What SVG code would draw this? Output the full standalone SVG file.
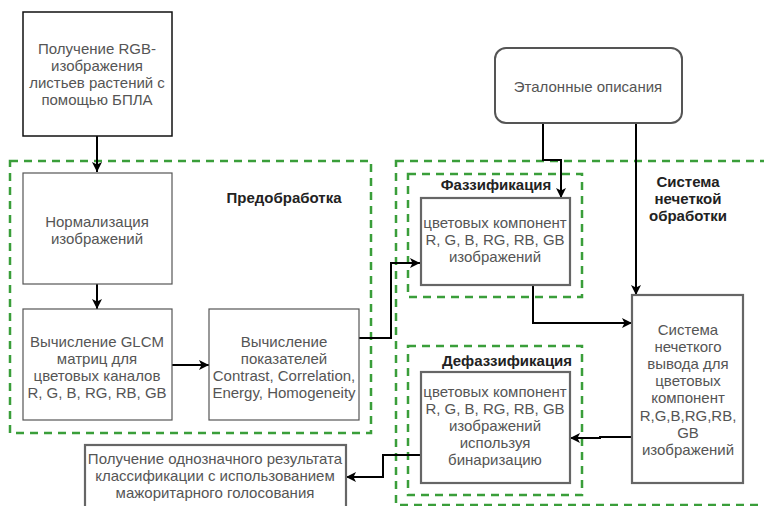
<svg xmlns="http://www.w3.org/2000/svg" width="764" height="506" viewBox="0 0 764 506">
<defs>
<marker id="arr" viewBox="0 0 10 10" refX="10" refY="5" markerWidth="10" markerHeight="10" markerUnits="userSpaceOnUse" orient="auto">
<path d="M0,0 L10,5 L0,10 L2.5,5 Z" fill="#000"/>
</marker>
<style>
.t{font-family:"Liberation Sans",Arial,sans-serif;font-size:15px;fill:#555;text-anchor:middle}
.b{font-family:"Liberation Sans",Arial,sans-serif;font-size:15px;font-weight:bold;fill:#222;text-anchor:middle}
.thin{fill:#fff;stroke:#555;stroke-width:1.2}
.thick{fill:#fff;stroke:#666;stroke-width:2.2}
.grp{fill:none;stroke:#3a9e3a;stroke-width:2.5;stroke-dasharray:8 6}
.c{fill:none;stroke:#000;stroke-width:2}
</style>
</defs>
<rect width="764" height="506" fill="#fff"/>
<g id="groups">
<rect class="grp" x="10" y="161" width="361" height="272"/>
<rect class="grp" x="396" y="161" width="380" height="344"/>
<rect class="grp" x="408" y="174" width="174" height="123"/>
<rect class="grp" x="408" y="346" width="174" height="149"/>
</g>
<g id="labels">
<text class="b" x="284" y="203">Предобработка</text>
<text class="b" x="496" y="190">Фаззификация</text>
<text class="b" x="507" y="366">Дефаззификация</text>
<text class="b" x="688" y="187">Система</text>
<text class="b" x="688" y="204">нечеткой</text>
<text class="b" x="688" y="221">обработки</text>
</g>
<g id="connectors">
<path class="c" d="M97,136 V172" marker-end="url(#arr)"/>
<path class="c" d="M97,284 V309" marker-end="url(#arr)"/>
<path class="c" d="M172,365 H209" marker-end="url(#arr)"/>
<path class="c" d="M359,338 H391 V263 H420" marker-end="url(#arr)"/>
<path class="c" d="M543,123 V160 H561 V198" marker-end="url(#arr)"/>
<path class="c" d="M636,123 V295" marker-end="url(#arr)"/>
<path class="c" d="M533,285 V323 H632" marker-end="url(#arr)"/>
<path class="c" d="M632,437 H600 V438 H570" marker-end="url(#arr)"/>
<path class="c" d="M421,455 H383 V477 H346" marker-end="url(#arr)"/>
</g>
<g id="n-uav">
<rect x="23" y="12" width="149" height="124" fill="#fff" stroke="#111" stroke-width="1.5"/>
<text class="t" x="97" y="54">Получение RGB-</text>
<text class="t" x="97" y="71">изображения</text>
<text class="t" x="97" y="88">листьев растений с</text>
<text class="t" x="97" y="105">помощью БПЛА</text>
</g>
<g id="n-norm">
<rect class="thin" x="23" y="173" width="149" height="111"/>
<text class="t" x="97" y="227">Нормализация</text>
<text class="t" x="97" y="244">изображений</text>
</g>
<g id="n-glcm">
<rect class="thin" x="23" y="309" width="149" height="111"/>
<text class="t" x="97" y="347">Вычисление GLCM</text>
<text class="t" x="97" y="364">матриц для</text>
<text class="t" x="97" y="381">цветовых каналов</text>
<text class="t" x="97" y="398">R, G, B, RG, RB, GB</text>
</g>
<g id="n-metrics">
<rect class="thin" x="209" y="309" width="150" height="111"/>
<text class="t" x="284" y="347">Вычисление</text>
<text class="t" x="284" y="364">показателей</text>
<text class="t" x="284" y="381">Contrast, Correlation,</text>
<text class="t" x="284" y="398">Energy, Homogeneity</text>
</g>
<g id="n-etalon">
<rect x="495" y="48" width="187" height="75" rx="11" ry="11" fill="#fff" stroke="#555" stroke-width="2"/>
<text class="t" x="588" y="92">Эталонные описания</text>
</g>
<g id="n-fuzz">
<rect class="thick" x="421" y="198" width="149" height="87"/>
<text class="t" x="495" y="228">цветовых компонент</text>
<text class="t" x="495" y="245">R, G, B, RG, RB, GB</text>
<text class="t" x="495" y="262">изображений</text>
</g>
<g id="n-infer">
<rect class="thick" x="632" y="295" width="111" height="188"/>
<text class="t" x="688" y="335">Система</text>
<text class="t" x="688" y="352">нечеткого</text>
<text class="t" x="688" y="369">вывода для</text>
<text class="t" x="688" y="386">цветовых</text>
<text class="t" x="688" y="403">компонент</text>
<text class="t" x="688" y="421">R,G,B,RG,RB,</text>
<text class="t" x="688" y="438">GB</text>
<text class="t" x="688" y="455">изображений</text>
</g>
<g id="n-defuzz">
<rect class="thick" x="421" y="372" width="149" height="111"/>
<text class="t" x="495" y="397">цветовых компонент</text>
<text class="t" x="495" y="414">R, G, B, RG, RB, GB</text>
<text class="t" x="495" y="431">изображений</text>
<text class="t" x="495" y="448">используя</text>
<text class="t" x="495" y="465">бинаризацию</text>
</g>
<g id="n-result">
<rect class="thick" x="85" y="445" width="261" height="70"/>
<text class="t" x="215" y="464">Получение однозначного результата</text>
<text class="t" x="215" y="481">классификации с использованием</text>
<text class="t" x="215" y="498">мажоритарного голосования</text>
</g>
</svg>
